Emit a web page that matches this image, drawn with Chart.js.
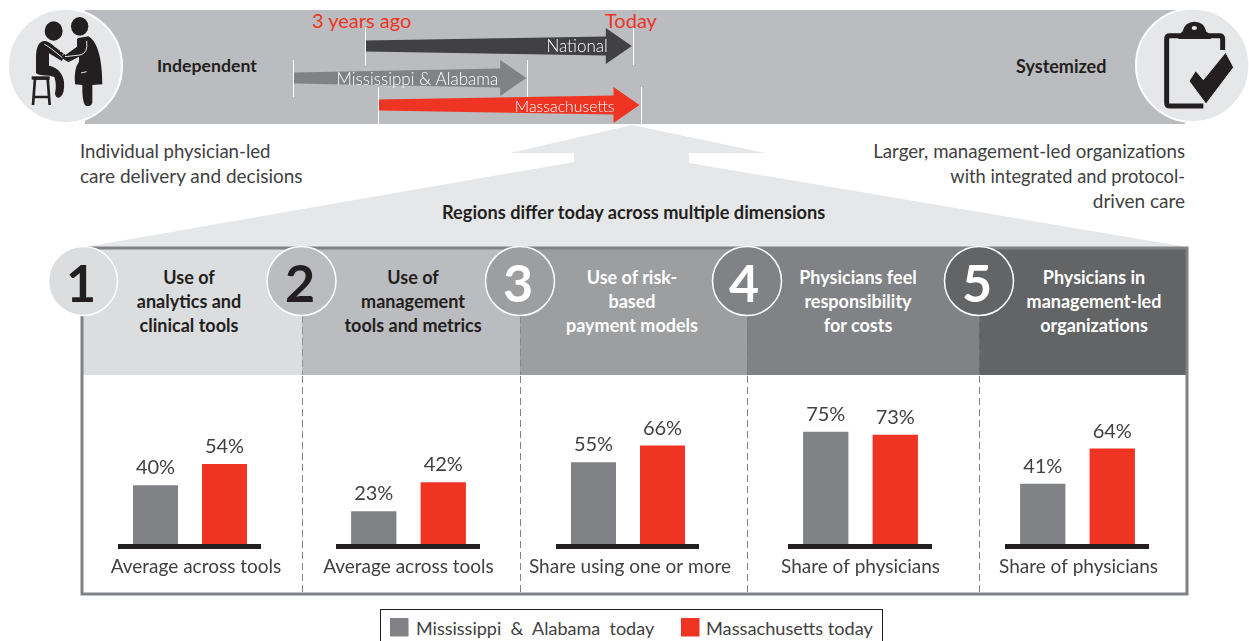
<!DOCTYPE html>
<html>
<head>
<meta charset="utf-8">
<title>Physician practice shift</title>
<script src="https://cdn.jsdelivr.net/npm/chart.js@4"></script>
<style>
    html, body { margin: 0; padding: 0; background: #fff; }
    #page { position: relative; width: 1249px; height: 641px; overflow: hidden; font-family: Lato, sans-serif; color: #414042; }
    #page svg, #page canvas { position: absolute; }
    .t { position: absolute; white-space: pre; line-height: 1; }
    .b { font-weight: 700; color: #231F20; }
    .c { transform: translateX(-50%); text-align: center; }
    .r { transform: translateX(-100%); text-align: right; }
    .body { font-size: 18px; font-weight: 400; }
    .head { font-size: 18px; font-weight: 700; color: #231F20; line-height: 24px; }
    .num { font-size: 52px; font-weight: 700; color: #231F20; }
    .red { color: #EF3424; font-size: 20px; font-weight: 400; }
    .w { color: #fff; }
</style>
</head>
<body>
<div id="page">
    <svg width="1249" height="641" style="left:0;top:0">
        <rect x="85" y="10" width="1100" height="114" fill="#BBBCBF"/>
        <polygon points="632,125 765,153 689,153 689,163 1187,247 85,247 574,162 574,153 510,153" fill="#E6E7E8"/>
        <rect x="82" y="248" width="220" height="127" fill="#DCDDDE"/>
        <rect x="302" y="248" width="218" height="127" fill="#BBBCBF"/>
        <rect x="520" y="248" width="227" height="127" fill="#9D9EA0"/>
        <rect x="747" y="248" width="232" height="127" fill="#808285"/>
        <rect x="979" y="248" width="208" height="127" fill="#636466"/>
        <rect x="82" y="248" width="1105" height="346" fill="none" stroke="#808285" stroke-width="3"/>
        <g stroke="#808285" stroke-width="1" stroke-dasharray="7 4">
            <path d="M302.5 376V593M520.5 376V593M747.5 376V593M979.5 376V593"/>
            <path d="M302.5 316V375M520.5 316V375M747.5 316V375M979.5 316V375" stroke="#77787B" stroke-opacity="0.6"/>
        </g>
        <g stroke="#fff" stroke-width="1.5">
            <circle cx="83" cy="281" r="34.5" fill="#DCDDDE"/>
            <circle cx="301.5" cy="281" r="34.5" fill="#BBBCBF"/>
            <circle cx="520" cy="281" r="34.5" fill="#9D9EA0"/>
            <circle cx="747" cy="281" r="34.5" fill="#808285"/>
            <circle cx="979" cy="281" r="34.5" fill="#636466"/>
        </g>
        <rect x="380.5" y="609.5" width="502" height="40" fill="#fff" stroke="#231F20" stroke-width="1"/>
        <rect x="390" y="618" width="18.5" height="18.5" fill="#808285"/>
        <rect x="681" y="618" width="18.5" height="18.5" fill="#EF3424"/>
    </svg>

    <!-- doctor and patient icon -->
    <svg width="125" height="125" viewBox="0 0 375 375" style="left:5px;top:5px">
        <circle cx="180" cy="183" r="171" fill="#E6E7E8" stroke="#fff" stroke-width="6"/>
        <g fill="#231F20">
            <ellipse cx="146" cy="78" rx="27" ry="29"/>
            <ellipse cx="224" cy="64" rx="26" ry="28"/>
            <path d="M110 110Q94 118 93 150L93 204Q100 212 135 212L148 216Q156 240 150 265Q152 282 165 277Q180 265 177 230Q170 190 132 182L132 145L170 168L182 150L150 126Q125 103 110 110Z"/>
            <path d="M216 100L250 94C280 110 292 170 292 238L262 240L262 293Q258 305 245 303Q231 300 232 240L210 238Q206 190 222 170L222 155L190 172L170 158L216 125Z"/>
        </g>
        <g fill="none" stroke="#231F20" stroke-width="8">
            <path d="M84 300L90 220H128L134 300M88 276H130"/>
        </g>
        <rect x="80" y="214" width="54" height="10" fill="#231F20"/>
        <g fill="none" stroke="#E6E7E8" stroke-width="3">
            <path d="M205 95L185 130L165 140M222 92L200 125L172 150"/>
            <path d="M118 118Q128 122 150 140L172 158M245 108Q250 145 225 150L180 155"/>
            <path d="M228 204L245 200"/>
        </g>
    </svg>

    <!-- clipboard icon -->
    <svg width="124" height="125" viewBox="0 0 372 375" style="left:1125px;top:5px">
        <circle cx="203" cy="181" r="170" fill="#E6E7E8" stroke="#fff" stroke-width="6"/>
        <path d="M165 92H135Q125 92 125 102V293Q125 303 135 303H235M250 92H283Q293 92 293 102V135" fill="none" stroke="#231F20" stroke-width="15"/>
        <path d="M160 102Q160 86 172 80Q180 50 208 50Q238 50 244 80Q258 86 258 102Z" fill="#231F20"/>
        <ellipse cx="208" cy="69" rx="8" ry="6" fill="#E6E7E8"/>
        <polygon points="192,228 212,197 235,224 302,142 326,187 243,297" fill="#231F20" stroke="#E6E7E8" stroke-width="3"/>
    </svg>

    <div class="t b" style="left:157px;top:57px;font-size:17.7px">Independent</div>
    <div class="t b" style="left:1016px;top:57px;font-size:18px">Systemized</div>
    <div class="t red" style="left:312px;top:10px">3 years ago</div>
    <div class="t red" style="left:605px;top:10px">Today</div>

    <div class="t body" style="left:80px;top:142px;font-size:18.6px">Individual physician-led</div>
    <div class="t body" style="left:80px;top:166px;font-size:19px">care delivery and decisions</div>
    <div class="t body r" style="left:1185px;top:142px;font-size:18.7px">Larger, management-led organizations</div>
    <div class="t body r" style="left:1185px;top:167px;font-size:18.3px">with integrated and protocol-</div>
    <div class="t body r" style="left:1185px;top:191px;font-size:19px">driven care</div>
    <div class="t b" style="left:442px;top:203px;font-size:18.2px">Regions differ today across multiple dimensions</div>

    <div class="t head c" style="left:189px;top:265px">Use of
analytics and
clinical tools</div>
    <div class="t head c" style="left:413px;top:265px">Use of
management
tools and metrics</div>
    <div class="t head c w" style="left:632px;top:265px">Use of risk-
based
payment models</div>
    <div class="t head c w" style="left:858px;top:265px">Physicians feel
responsibility
for costs</div>
    <div class="t head c w" style="left:1094px;top:265px">Physicians in
management-led
organizations</div>

    <div class="t num c" style="left:81px;top:256px">1</div>
    <div class="t num c" style="left:300px;top:256px">2</div>
    <div class="t num c w" style="left:518px;top:256px">3</div>
    <div class="t num c w" style="left:744px;top:256px">4</div>
    <div class="t num c w" style="left:977px;top:256px">5</div>

    <div class="t body" style="left:416px;top:619px;word-spacing:4.7px">Mississippi &amp; Alabama today</div>
    <div class="t body" style="left:706px;top:619px;font-size:18.2px">Massachusetts today</div>

    <canvas id="arrows" width="1100" height="110" style="left:85px;top:20px"></canvas>
    <canvas id="panel0" width="224" height="210" style="left:76px;top:385px"></canvas>
    <canvas id="panel1" width="225" height="210" style="left:294px;top:385px"></canvas>
    <canvas id="panel2" width="224" height="210" style="left:514px;top:385px"></canvas>
    <canvas id="panel3" width="225" height="210" style="left:746px;top:385px"></canvas>
    <canvas id="panel4" width="225" height="210" style="left:963px;top:385px"></canvas>
</div>

<script>
const regions = ['Mississippi & Alabama today', 'Massachusetts today'];
const dimensions = ['Use of analytics and clinical tools', 'Use of management tools and metrics', 'Use of risk-based payment models', 'Physicians feel responsibility for costs', 'Physicians in management-led organizations'];
const measures = ['Average across tools', 'Average across tools', 'Share using one or more', 'Share of physicians', 'Share of physicians'];
const missAlabama = [40, 23, 55, 75, 41];
const massachusetts = [54, 42, 66, 73, 64];

// position on the independent -> systemized scale, 0 to 100, 3 years ago and today
const arrowNames = ['National', 'Mississippi & Alabama', 'Massachusetts'];
const arrowRanges = [[25.45, 49.8], [18.9, 40.2], [26.6, 50.5]];

const GRAY = '#808285';
const RED = '#EF3424';
const FONT = 'Lato, sans-serif';

// small nudges so the sublabels sit as in the original
const measureShift = [6, 0, 2, 0, 1];

const barLabels = {
    id: 'barLabels',
    afterDatasetsDraw(chart, args, opts) {
        const ctx = chart.ctx;
        ctx.save();
        ctx.fillStyle = '#414042';
        ctx.textAlign = 'center';
        ctx.font = '400 20px ' + FONT;
        chart.data.datasets.forEach((ds, i) => {
            const el = chart.getDatasetMeta(i).data[0];
            ctx.fillText(ds.data[0] + '%', el.x, el.y - 11);
        });
        const a = chart.chartArea;
        ctx.font = '400 19px ' + FONT;
        ctx.fillText(opts.measure, (a.left + a.right) / 2 + opts.shift, a.bottom + 26.5);
        ctx.restore();
    }
};

dimensions.forEach((dim, i) => {
    new Chart(document.getElementById('panel' + i), {
        type: 'bar',
        data: {
            labels: [dim],
            datasets: [
                { label: regions[0], data: [missAlabama[i]], backgroundColor: GRAY },
                { label: regions[1], data: [massachusetts[i]], backgroundColor: RED }
            ]
        },
        options: {
            responsive: false,
            animation: false,
            layout: { padding: { left: 44, right: 40, top: 8.5, bottom: 0 } },
            datasets: { bar: { categoryPercentage: 0.986, barPercentage: 0.652 } },
            plugins: {
                legend: { display: false },
                tooltip: { enabled: false },
                barLabels: { measure: measures[i], shift: measureShift[i] }
            },
            scales: {
                x: {
                    grid: { display: false },
                    ticks: { display: false },
                    border: { color: '#231F20', width: 5, z: 1 },
                    afterFit: s => { s.height = 48.5; }
                },
                y: { display: false, min: 0, max: 100 }
            }
        },
        plugins: [barLabels]
    });
});

// per arrow: vertical nudge, label size, label nudges
const rowShift = [1, 3, 0];
const arrowFont = [17, 17, 15.8];
const labelDx = [2, -2, 1];
const labelDy = [0.5, 2, 2];

const arrowShapes = {
    id: 'arrowShapes',
    beforeDatasetDraw(chart) {
        const ctx = chart.ctx;
        chart.getDatasetMeta(0).data.forEach((el, i) => {
            const start = el.base, end = el.x, y = el.y + rowShift[i];
            const neck = end - 27;
            ctx.fillStyle = chart.data.datasets[0].backgroundColor[i];
            ctx.beginPath();
            ctx.moveTo(start + 1, y - 5.5);
            ctx.lineTo(neck, y - 9.5);
            ctx.lineTo(neck, y - 18);
            ctx.lineTo(end - 1, y);
            ctx.lineTo(neck, y + 18);
            ctx.lineTo(neck, y + 9.5);
            ctx.lineTo(start + 1, y + 5.5);
            ctx.closePath();
            ctx.fill();
            ctx.strokeStyle = '#fff';
            ctx.lineWidth = 1;
            ctx.beginPath();
            ctx.moveTo(Math.round(start) + 0.5, y - 18);
            ctx.lineTo(Math.round(start) + 0.5, y + 19);
            ctx.moveTo(Math.round(end) + 0.5, y - 18);
            ctx.lineTo(Math.round(end) + 0.5, y + 19);
            ctx.stroke();
            ctx.fillStyle = '#fff';
            ctx.textAlign = 'right';
            ctx.textBaseline = 'middle';
            ctx.font = '300 ' + arrowFont[i] + 'px ' + FONT;
            ctx.fillText(chart.data.labels[i], neck + labelDx[i], y + labelDy[i]);
        });
        return false;
    }
};

new Chart(document.getElementById('arrows'), {
    type: 'bar',
    data: {
        labels: arrowNames,
        datasets: [{ label: 'Shift', data: arrowRanges, backgroundColor: ['#414042', GRAY, RED] }]
    },
    options: {
        indexAxis: 'y',
        responsive: false,
        animation: false,
        layout: { padding: { top: 10, bottom: 10 } },
        plugins: { legend: { display: false }, tooltip: { enabled: false } },
        scales: {
            x: { display: false, min: 0, max: 100 },
            y: { display: false }
        }
    },
    plugins: [arrowShapes]
});
</script>
</body>
</html>
